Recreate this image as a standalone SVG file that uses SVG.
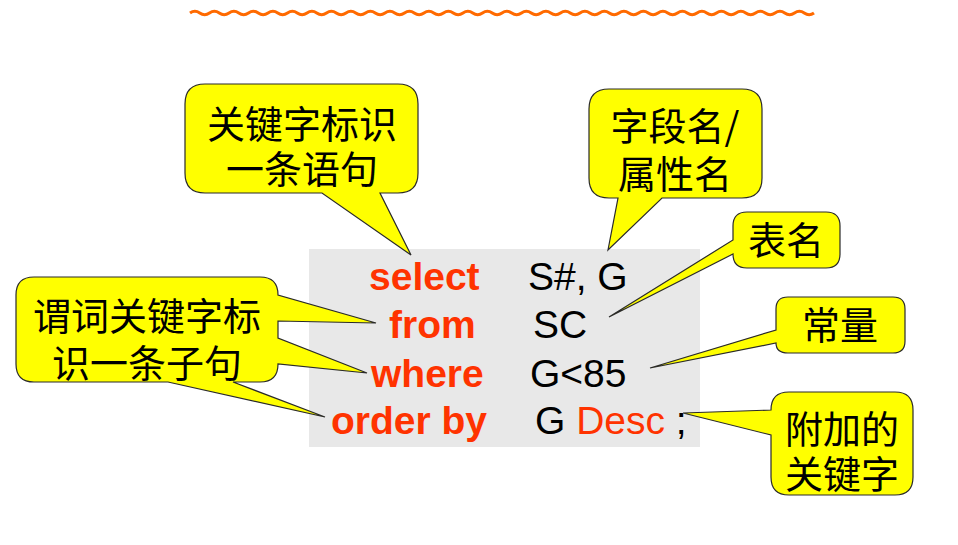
<svg xmlns="http://www.w3.org/2000/svg" width="958" height="545" viewBox="0 0 958 545">
<style>
.bubble{fill:#FFFF00;stroke:#2a2a2a;stroke-width:1.2;stroke-linejoin:miter}
.cjk{font-family:"Noto Sans CJK SC",sans-serif;font-size:38px;fill:#000;text-anchor:middle}
.kw{font-family:"Liberation Sans",Arial,sans-serif;font-size:39px;font-weight:bold;fill:#FF3300}
.val{font-family:"Liberation Sans",Arial,sans-serif;font-size:39px;fill:#000}
.red{fill:#FF3300}
</style>
<rect width="958" height="545" fill="#FFFFFF"/>
<path id="wave" fill="none" stroke="#FF6A00" stroke-width="3" d="M190,13 q4.875,-3.5 9.75,0 t9.75,0 t9.75,0 t9.75,0 t9.75,0 t9.75,0 t9.75,0 t9.75,0 t9.75,0 t9.75,0 t9.75,0 t9.75,0 t9.75,0 t9.75,0 t9.75,0 t9.75,0 t9.75,0 t9.75,0 t9.75,0 t9.75,0 t9.75,0 t9.75,0 t9.75,0 t9.75,0 t9.75,0 t9.75,0 t9.75,0 t9.75,0 t9.75,0 t9.75,0 t9.75,0 t9.75,0 t9.75,0 t9.75,0 t9.75,0 t9.75,0 t9.75,0 t9.75,0 t9.75,0 t9.75,0 t9.75,0 t9.75,0 t9.75,0 t9.75,0 t9.75,0 t9.75,0 t9.75,0 t9.75,0 t9.75,0 t9.75,0 t9.75,0 t9.75,0 t9.75,0 t9.75,0 t9.75,0 t9.75,0 t9.75,0 t9.75,0 t9.75,0 t9.75,0 t9.75,0 t9.75,0 t9.75,0 t9.75,0"/>
<g id="sql">
<rect x="309" y="249" width="391" height="198" fill="#E8E8E8"/>
<text class="kw" x="369" y="290">select</text>
<text class="kw" x="389" y="338">from</text>
<text class="kw" x="371" y="387">where</text>
<text class="kw" x="331" y="434">order by</text>
<text class="val" x="528" y="290">S#, G</text>
<text class="val" x="533" y="338">SC</text>
<text class="val" x="530" y="387">G&lt;85</text>
<text class="val" x="535" y="434">G <tspan class="red">Desc</tspan> ;</text>
</g>
<g id="connectors"></g>
<g id="callout-statement">
<path class="bubble" d="M205,84 H398 Q418,84 418,104 V173 Q418,193 398,193 H380 L411,255 L322,193 H205 Q185,193 185,173 V104 Q185,84 205,84 Z"/>
<text class="cjk" x="302" y="138">关键字标识</text>
<text class="cjk" x="302" y="183">一条语句</text>
</g>
<g id="callout-field">
<path class="bubble" d="M609,89 H742 Q762,89 762,109 V178 Q762,198 742,198 H662 L608,250 L618,198 H609 Q589,198 589,178 V109 Q589,89 609,89 Z"/>
<text class="cjk" x="675" y="140">字段名/</text>
<text class="cjk" x="675" y="188">属性名</text>
</g>
<g id="callout-table">
<path class="bubble" d="M747,212 H826 Q840,212 840,226 V254 Q840,268 826,268 H747 Q733,268 733,254 L609,317 L733,240 V226 Q733,212 747,212 Z"/>
<text class="cjk" x="786" y="254">表名</text>
</g>
<g id="callout-clause">
<path class="bubble" d="M34,277 H260 Q278,277 278,295 L376,323 L278,321 V338 L367,373 L278,364 Q278,382 260,382 H233 L325,417 L168,382 H34 Q16,382 16,364 V295 Q16,277 34,277 Z"/>
<text class="cjk" x="147" y="330">谓词关键字标</text>
<text class="cjk" x="147" y="377">识一条子句</text>
</g>
<g id="callout-constant">
<path class="bubble" d="M788,297 H893 Q905,297 905,309 V341 Q905,353 893,353 H788 Q776,353 776,343 L650,368 L776,330 V309 Q776,297 788,297 Z"/>
<text class="cjk" x="840" y="339">常量</text>
</g>
<g id="callout-extra">
<path class="bubble" d="M789,392 H895 Q913,392 913,410 V477 Q913,495 895,495 H789 Q771,495 771,477 V435 L683,413 L771,410 Q771,392 789,392 Z"/>
<text class="cjk" x="842" y="443">附加的</text>
<text class="cjk" x="842" y="488">关键字</text>
</g>
</svg>
